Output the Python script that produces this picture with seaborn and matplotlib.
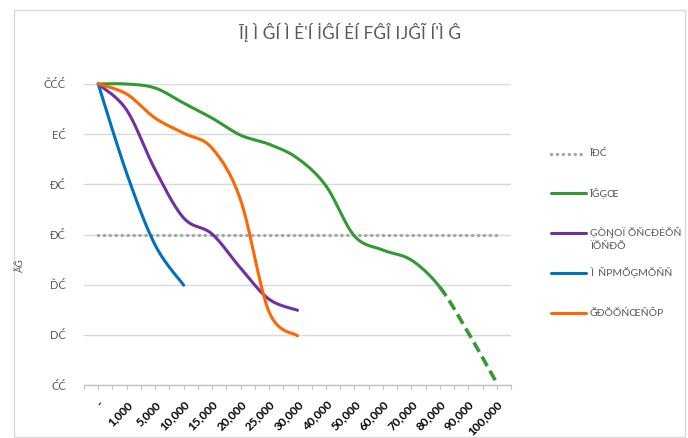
import numpy as np
import pandas as pd
import matplotlib
matplotlib.use("Agg")
import matplotlib.pyplot as plt
import seaborn as sns
from matplotlib.lines import Line2D
from matplotlib.patches import Rectangle

# ---------------- data ----------------
categories = ["-", "1,000", "5,000", "10,000", "15,000", "20,000", "25,000", "30,000",
              "40,000", "50,000", "60,000", "70,000", "80,000", "90,000", "100,000"]
y_tick_labels = ["ĆĆ", "DĆ", "ĎĆ", "ĐĆ", "ĐĆ", "EĆ", "ČĆĆ"]
title_text = "ĪĮ Ì ĜÍ Ì Ė'Í İĜÍ ĖÍ FĜÎ ĲĜĨ Í'Ì Ĝ"
y_label_text = "ĂĜ"
series_names = ["ĪĐĆ", "ĪĜĢŒ", "ĢÒŊOÏ ŎŇCĐĖŎŇ\nÏŎŇĐÕ", "Ì  ŇPMŎĢMŎŇŇ", "ĞĐŎŎŃŒŇŌP"]

reference = [3.0, 3.0, 3.0, 3.0, 3.0, 3.0, 3.0, 3.0, 3.0, 3.0, 3.0, 3.0, 3.0, 3.0, 3.0]
green = [6.0, 6.0, 5.92, 5.62, 5.32, 4.98, 4.80, 4.52, 3.97, 2.97, 2.69, 2.49, 1.95, 1.04, 0.04]
purple = [6.0, 5.48, 4.29, 3.33, 3.01, 2.33, 1.71, 1.49]
blue = [6.0, 4.22, 2.79, 1.99]
orange = [6.0, 5.80, 5.32, 5.02, 4.72, 3.69, 1.46, 0.98]
green_solid_until = 12  # index where green turns dashed

colors = ["#A6A6A6", "#339933", "#7030A0", "#0070C0", "#FF6600"]

# ---------------- style ----------------
sns.set_style("white")
plt.rcParams["font.family"] = ["Lato", "DejaVu Sans"]


def smooth(xv, yv, n=24):
    """Catmull-Rom rendering of a smoothed line through the data points."""
    xv = np.asarray(xv, float)
    yv = np.asarray(yv, float)
    if len(xv) < 3:
        return xv, yv
    pts = np.column_stack([xv, yv])
    out = []
    for i in range(len(pts) - 1):
        p0 = pts[i - 1] if i > 0 else pts[i]
        p1 = pts[i]
        p2 = pts[i + 1]
        p3 = pts[i + 2] if i + 2 < len(pts) else pts[i + 1]
        m1 = (p2 - p0) / 2.0
        m2 = (p3 - p1) / 2.0
        t = np.linspace(0, 1, n, endpoint=(i == len(pts) - 2))[:, None]
        h00 = 2 * t**3 - 3 * t**2 + 1
        h10 = t**3 - 2 * t**2 + t
        h01 = -2 * t**3 + 3 * t**2
        h11 = t**3 - t**2
        out.append(h00 * p1 + h10 * m1 + h01 * p2 + h11 * m2)
    out = np.vstack(out)
    return out[:, 0], out[:, 1]


fig = plt.figure(figsize=(6.88, 4.38), dpi=100)
ax = fig.add_axes([84 / 688, 1 - 385 / 438, (511 - 84) / 688, (385 - 84) / 438])

lw = 2.2

# reference dotted line
xr = np.arange(len(reference))
sns.lineplot(x=xr, y=reference, ax=ax, color=colors[0], lw=2.5, sort=False, estimator=None)
ax.lines[-1].set_linestyle((0, (0.01, 1.7)))
ax.lines[-1].set_dash_capstyle("round")

# green: solid then dashed
gx, gy = smooth(np.arange(len(green)), green)
mask_s = gx <= green_solid_until + 1e-9
mask_d = gx >= green_solid_until - 1e-9
sns.lineplot(x=gx[mask_s], y=gy[mask_s], ax=ax, color=colors[1], lw=lw, sort=False, estimator=None)
sns.lineplot(x=gx[mask_d], y=gy[mask_d], ax=ax, color=colors[1], lw=lw + 0.4, sort=False, estimator=None)
ax.lines[-1].set_linestyle((0, (3.0, 1.5)))

for vals, col in [(purple, colors[2]), (blue, colors[3]), (orange, colors[4])]:
    sx, sy = smooth(np.arange(len(vals)), vals)
    sns.lineplot(x=sx, y=sy, ax=ax, color=col, lw=lw, sort=False, estimator=None)

for ln in ax.lines:
    ln.set_clip_on(False)
    ln.set_solid_capstyle("round")

# axes formatting
ax.set_xlim(-0.5, len(categories) - 0.5)
ax.set_ylim(0, 6)
ax.set_yticks(range(len(y_tick_labels)))
ax.set_yticklabels(y_tick_labels, color="#595959", fontsize=8)
ax.set_xticks(range(len(categories)))
ax.set_xticklabels(categories, rotation=45, ha="right", va="top",
                   rotation_mode="anchor", fontsize=8.5, fontweight="bold", color="black")
ax.set_xticks(np.arange(-0.5, len(categories), 1.0), minor=True)
ax.tick_params(axis="x", which="both", direction="out", length=3, width=0.8,
               color="#BFBFBF", bottom=True, pad=7)
ax.tick_params(axis="y", length=0, pad=13)
ax.grid(axis="y", color="#D9D9D9", lw=1.0)
ax.grid(axis="x", visible=False)
ax.set_axisbelow(True)
for s in ["top", "right", "left"]:
    ax.spines[s].set_visible(False)
ax.spines["bottom"].set_color("#BFBFBF")
ax.spines["bottom"].set_linewidth(0.9)
ax.set_xlabel("")
ax.set_ylabel("")

# title and y label
fig.text(350 / 688, 1 - 32 / 438, title_text, ha="center", va="center",
         fontsize=12.5, color="#595959")
fig.text(20 / 688, 1 - 265 / 438, y_label_text, ha="center", va="center",
         rotation=90, fontsize=7, color="#595959")

# legend (drawn at the right)
leg_y = [154, 193, 233, 273, 313]
styles = [dict(ls=(0, (0.01, 1.7)), lw=2.5, dash_capstyle="round"),
          dict(ls="-", lw=lw), dict(ls="-", lw=lw), dict(ls="-", lw=lw), dict(ls="-", lw=lw)]
for name, col, yy, st in zip(series_names, colors, leg_y, styles):
    yf = 1 - yy / 438
    fig.add_artist(Line2D([551 / 688, 586 / 688], [yf, yf], color=col,
                          transform=fig.transFigure, **st))
    if "\n" in name:
        fig.text(590 / 688, yf + 6 / 438, name, ha="left", va="top",
                 fontsize=7.5, color="#595959", linespacing=1.5)
    else:
        fig.text(590 / 688, yf, name, ha="left", va="center",
                 fontsize=7.5, color="#595959")

# chart border
fig.add_artist(Rectangle((14 / 688, 1.5 / 438), (685 - 14) / 688, (436.5 - 10) / 438,
                         transform=fig.transFigure, fill=False,
                         edgecolor="#D9D9D9", lw=1.0))

fig.savefig("out.png", dpi=100)
